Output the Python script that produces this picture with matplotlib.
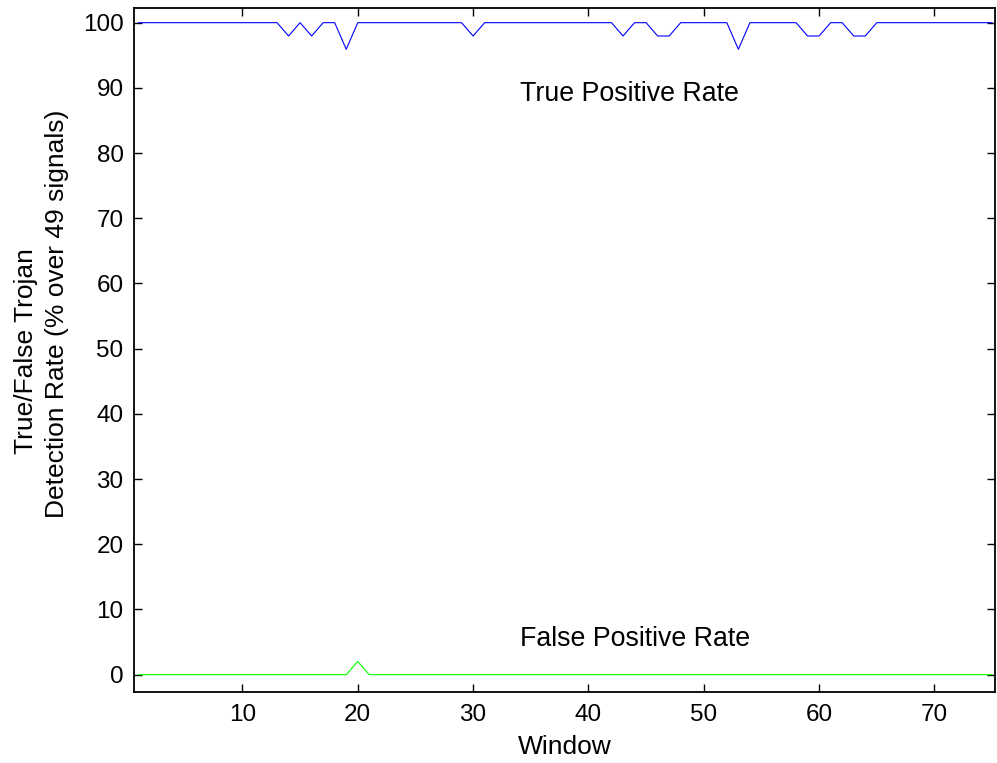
import matplotlib
matplotlib.use("Agg")
import matplotlib.pyplot as plt
import numpy as np

plt.rcParams["font.family"] = ["Liberation Sans", "DejaVu Sans"]

# data (49 signals -> one miss is 2.04 %)
windows = np.arange(1, 76)
tpr_dips = {14: 97.96, 16: 97.96, 19: 95.92, 30: 97.96, 43: 97.96, 46: 97.96,
            47: 97.96, 53: 95.92, 59: 97.96, 60: 97.96, 63: 97.96, 64: 97.96}
fpr_peaks = {20: 2.04}

true_positive = np.array([tpr_dips.get(int(w), 100.0) for w in windows])
false_positive = np.array([fpr_peaks.get(int(w), 0.0) for w in windows])

y_ticks = list(range(0, 101, 10))
x_ticks = list(range(10, 71, 10))
ylabel_lines = ["True/False Trojan", "Detection Rate (% over 49 signals)"]

figure = plt.figure(figsize=(9.97, 7.63), dpi=100)
axis = figure.add_axes([0.1344, 0.0931, 0.8636, 0.8964])
axis.plot(windows, true_positive, color=(0, 0, 1), linewidth=0.8)
axis.plot(windows, false_positive, color=(0, 1, 0), linewidth=0.8)
axis.text(34.1, 88.0, "True Positive Rate", fontsize=19.3, va="baseline", ha="left")
axis.text(34.1, 4.4, "False Positive Rate", fontsize=19.3, va="baseline", ha="left")

axis.set_xlim(0.6, 75.25)
axis.set_ylim(-2.65, 102.25)
axis.set_xticks(x_ticks)
axis.set_yticks(y_ticks)
axis.tick_params(direction="in", length=5.5, width=1, labelsize=17.5, top=True, right=True)
axis.tick_params(axis="x", pad=8.5)
axis.tick_params(axis="y", pad=7.5)
for spine in axis.spines.values():
    spine.set_linewidth(1.3)
axis.set_xlabel("Window", fontsize=19, labelpad=7)

# two label lines placed separately, as in the reference
figure.text(26 / 997, 1 - 351 / 763, ylabel_lines[0], fontsize=19, rotation=90,
            ha="center", va="center")
figure.text(57 / 997, 1 - 314 / 763, ylabel_lines[1], fontsize=19, rotation=90,
            ha="center", va="center")

figure.savefig("out.png", dpi=100)
